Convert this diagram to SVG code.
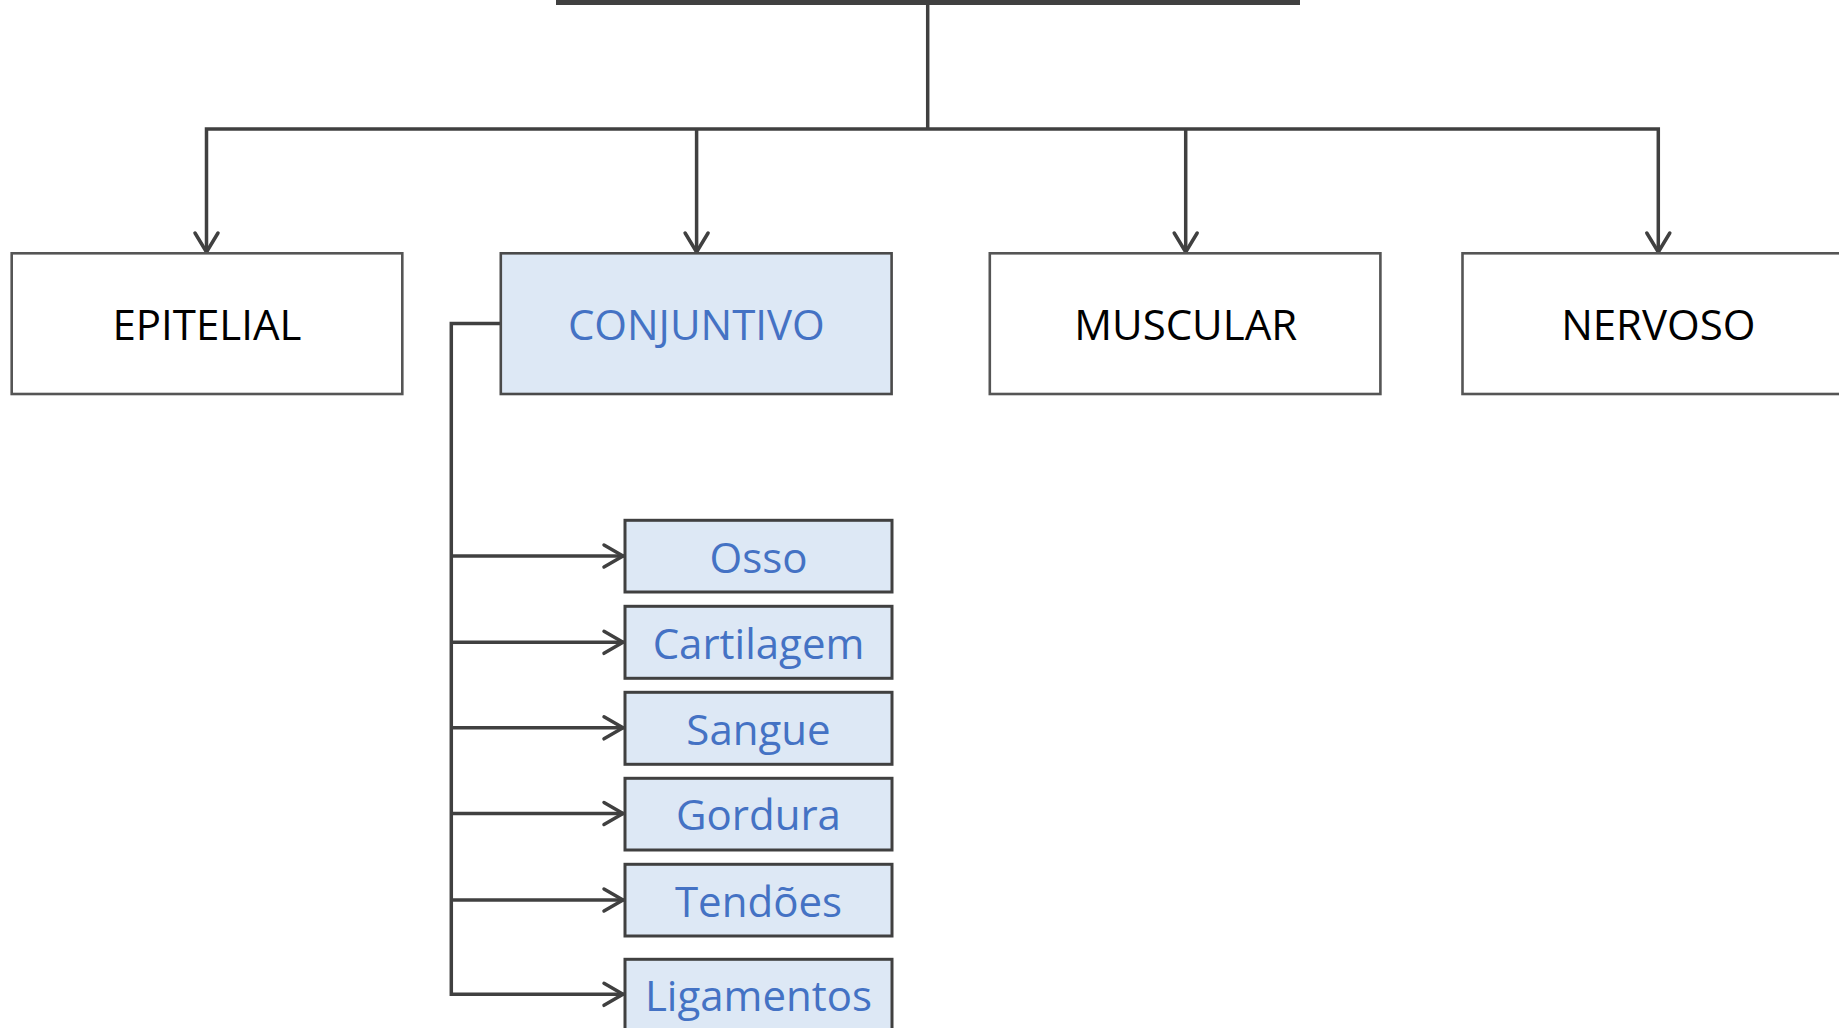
<svg xmlns="http://www.w3.org/2000/svg" width="1839" height="1028" viewBox="0 0 1839 1028">
<style>
.box{fill:#ffffff;stroke:#555555;stroke-width:2.6}
.sel{fill:#dde8f5;stroke:#4a4a4a;stroke-width:2.6}
.sub{fill:#dde8f5;stroke:#404040;stroke-width:3}
.lbl{font-family:"Open Sans","Noto Sans",sans-serif;font-size:42px;text-anchor:middle;fill:#000000}
.blue{fill:#4472c4}
.ln{fill:none;stroke:#404040;stroke-width:3.5}
.ah{fill:none;stroke:#404040;stroke-width:3.5;stroke-linecap:round;stroke-linejoin:miter}
</style>
<rect x="0" y="0" width="1839" height="1028" fill="#ffffff"/>
<g id="connectors">
<rect x="556" y="-2" width="744" height="7" fill="#404040"/>
<path class="ln" d="M927.7 5 V129"/>
<path class="ln" d="M206.5 253 V129 H1658.3 V253"/>
<path class="ln" d="M696.6 129 V253"/>
<path class="ln" d="M1185.7 129 V253"/>
<path class="ah" d="M195 233 L206.5 252 L218 233"/>
<path class="ah" d="M685.1 233 L696.6 252 L708.1 233"/>
<path class="ah" d="M1174.2 233 L1185.7 252 L1197.2 233"/>
<path class="ah" d="M1646.8 233 L1658.3 252 L1669.8 233"/>
<path class="ln" d="M500.7 323.5 H451.3 V994.3 H624"/>
<path class="ln" d="M451.3 556 H624"/>
<path class="ln" d="M451.3 642.3 H624"/>
<path class="ln" d="M451.3 727.8 H624"/>
<path class="ln" d="M451.3 813.5 H624"/>
<path class="ln" d="M451.3 900 H624"/>
<path class="ah" d="M604 545 L623 556 L604 567"/>
<path class="ah" d="M604 631.3 L623 642.3 L604 653.3"/>
<path class="ah" d="M604 716.8 L623 727.8 L604 738.8"/>
<path class="ah" d="M604 802.5 L623 813.5 L604 824.5"/>
<path class="ah" d="M604 889 L623 900 L604 911"/>
<path class="ah" d="M604 983.3 L623 994.3 L604 1005.3"/>
</g>
<g id="epitelial"><rect class="box" x="11.7" y="253.3" width="390.6" height="140.7"/><text class="lbl" x="207" y="339.5">EPITELIAL</text></g>
<g id="conjuntivo"><rect class="sel" x="500.8" y="253.3" width="390.8" height="140.7"/><text class="lbl blue" x="696.3" y="339.5">CONJUNTIVO</text></g>
<g id="muscular"><rect class="box" x="989.8" y="253.3" width="390.6" height="140.7"/><text class="lbl" x="1185.7" y="339.5">MUSCULAR</text></g>
<g id="nervoso"><rect class="box" x="1462.5" y="253.3" width="390.6" height="140.7"/><text class="lbl" x="1658.3" y="339.5">NERVOSO</text></g>
<g id="osso"><rect class="sub" x="625" y="520.3" width="267" height="71.7"/><text class="lbl blue" x="758.5" y="572.5">Osso</text></g>
<g id="cartilagem"><rect class="sub" x="625" y="606.3" width="267" height="72"/><text class="lbl blue" x="758.5" y="659">Cartilagem</text></g>
<g id="sangue"><rect class="sub" x="625" y="692.3" width="267" height="72"/><text class="lbl blue" x="758.5" y="744.5">Sangue</text></g>
<g id="gordura"><rect class="sub" x="625" y="778.3" width="267" height="71.7"/><text class="lbl blue" x="758.5" y="830">Gordura</text></g>
<g id="tendoes"><rect class="sub" x="625" y="864.3" width="267" height="71.7"/><text class="lbl blue" x="758.5" y="916.5">Tendões</text></g>
<g id="ligamentos"><rect class="sub" x="625" y="959.3" width="267" height="80"/><text class="lbl blue" x="758.5" y="1011">Ligamentos</text></g>
</svg>
